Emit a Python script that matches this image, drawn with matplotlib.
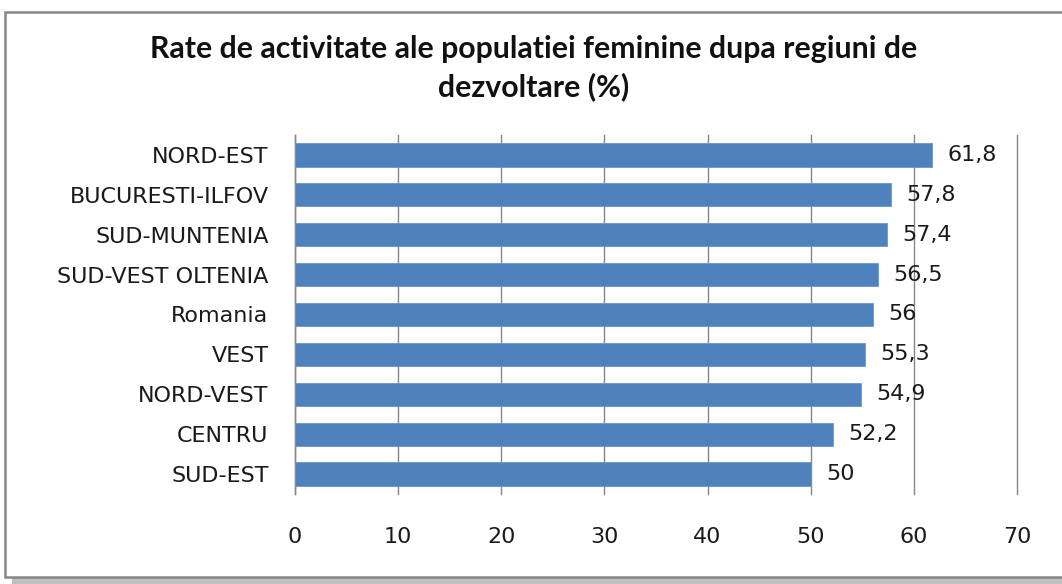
import matplotlib.pyplot as plt
from matplotlib.patches import Rectangle

# --- data ---
regions = ['NORD-EST', 'BUCURESTI-ILFOV', 'SUD-MUNTENIA', 'SUD-VEST OLTENIA',
           'Romania', 'VEST', 'NORD-VEST', 'CENTRU', 'SUD-EST']
rates = [61.8, 57.8, 57.4, 56.5, 56, 55.3, 54.9, 52.2, 50]
xticks = [0, 10, 20, 30, 40, 50, 60, 70]

plt.rcParams['font.family'] = ['DejaVu Sans']

fig = plt.figure(figsize=(10.62, 5.84), dpi=100)

# chart frame with a shadow underneath (kept behind the axes)
fig.patches.append(Rectangle((12 / 1062, 0), 1.0, 8 / 584, transform=fig.transFigure,
                             facecolor='#bfbfbf', edgecolor='none', zorder=-2))
fig.patches.append(Rectangle((5 / 1062, 7 / 584), 1.02, 565 / 584, transform=fig.transFigure,
                             facecolor='white', edgecolor='#868686', lw=1.8, zorder=-1))

ax = fig.add_axes([295 / 1062, 1 - 494 / 584, 722 / 1062, 359 / 584])
ax.set_facecolor('none')

ypos = list(range(len(regions)))
ax.barh(ypos, rates, height=0.58, color='#4f81bd', edgecolor='#6a96cc', lw=0.6, zorder=3)

for y, v in zip(ypos, rates):
    txt = f'{v:g}'.replace('.', ',')
    ax.annotate(txt, (v, y), xytext=(11, 0), textcoords='offset points',
                va='center', ha='left', fontsize=16, color='#1a1a1a', zorder=4)

ax.set_xlim(0, 70)
ax.set_ylim(len(regions) - 0.5, -0.5)
ax.set_xticks(xticks)
ax.set_xticklabels([str(t) for t in xticks])
ax.set_yticks(ypos)
ax.set_yticklabels(regions)
ax.tick_params(axis='y', length=0, pad=19, labelsize=16, labelcolor='#1a1a1a')
ax.tick_params(axis='x', length=0, pad=24, labelsize=16, labelcolor='#1a1a1a')

ax.grid(axis='x', color='#868686', lw=1.0, zorder=0)
for gl in ax.get_xgridlines():
    gl.set_clip_on(False)
for s in ['top', 'right', 'bottom']:
    ax.spines[s].set_visible(False)
ax.spines['left'].set_color('#868686')
ax.spines['left'].set_linewidth(1.0)

fig.text(534 / 1062, 1 - 68 / 584,
         'Rate de activitate ale populatiei feminine dupa regiuni de\ndezvoltare (%)',
         ha='center', va='center', fontsize=21.8, fontweight='bold',
         family=['Lato', 'DejaVu Sans'], linespacing=1.38, color='#111111')

fig.savefig('out.png', dpi=100)
